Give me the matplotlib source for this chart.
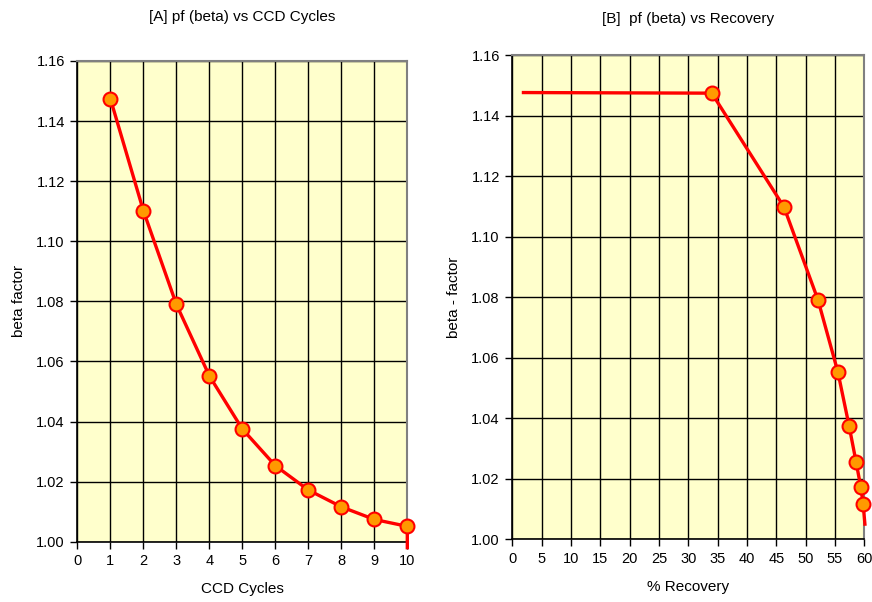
import matplotlib
matplotlib.use("Agg")
import matplotlib.pyplot as plt
from matplotlib.ticker import MultipleLocator, FormatStrFormatter

plt.rcParams['font.family'] = ['Liberation Sans', 'DejaVu Sans']

# data
cycles = [1, 2, 3, 4, 5, 6, 7, 8, 9, 10, 10]
beta_a = [1.1475, 1.1102, 1.0790, 1.0552, 1.0375, 1.0253, 1.0172, 1.0116, 1.0074, 1.0051, 0.998]

recovery = [1.9, 34.0, 46.3, 52.1, 55.5, 57.4, 58.6, 59.4, 59.8, 60.1]
beta_b = [1.1476, 1.1474, 1.1098, 1.0791, 1.0552, 1.0375, 1.0255, 1.0172, 1.0116, 1.0050]

bg = '#FFFFCC'
red = '#FF0000'
orange = '#FF9900'

fig = plt.figure(figsize=(8.72, 6.02), dpi=100)
axA = fig.add_axes([0.0887, 0.1002, 0.3784, 0.7985])
axB = fig.add_axes([0.5875, 0.1042, 0.4037, 0.8044])


def style(ax, xmax, xstep):
    ax.set_facecolor(bg)
    ax.set_ylim(1.00, 1.16)
    ax.set_xlim(0, xmax)
    ax.xaxis.set_major_locator(MultipleLocator(xstep))
    ax.yaxis.set_major_locator(MultipleLocator(0.02))
    ax.yaxis.set_major_formatter(FormatStrFormatter('%.2f'))
    ax.grid(True, color='black', linewidth=1.0)
    ax.set_axisbelow(True)
    for s in ['top', 'right']:
        ax.spines[s].set_color('#808080')
        ax.spines[s].set_linewidth(1.5)
    for s in ['left', 'bottom']:
        ax.spines[s].set_color('black')
        ax.spines[s].set_linewidth(1.2)
    ax.tick_params(direction='out', length=5, width=1, labelsize=10.5, pad=4)


style(axA, 10, 1)
axA.plot(cycles, beta_a, color=red, lw=2.4, marker='o', markevery=range(0, 10),
         ms=10, mfc=orange, mec=red, mew=1.5, clip_on=False, zorder=5)
axA.set_title('[A] pf (beta) vs CCD Cycles', fontsize=11, pad=29)
axA.set_xlabel('CCD Cycles', fontsize=11, labelpad=10)
axA.set_ylabel('beta factor', fontsize=11, labelpad=7)

style(axB, 60, 5)
axB.plot(recovery, beta_b, color=red, lw=2.4, marker='o', markevery=range(1, 9),
         ms=10, mfc=orange, mec=red, mew=1.5, clip_on=False, zorder=5)
axB.set_title('[B]  pf (beta) vs Recovery', fontsize=11, pad=23)
axB.set_xlabel('% Recovery', fontsize=11, labelpad=10)
axB.set_ylabel('beta - factor', fontsize=11, labelpad=7)

fig.savefig('out.png', dpi=100)
